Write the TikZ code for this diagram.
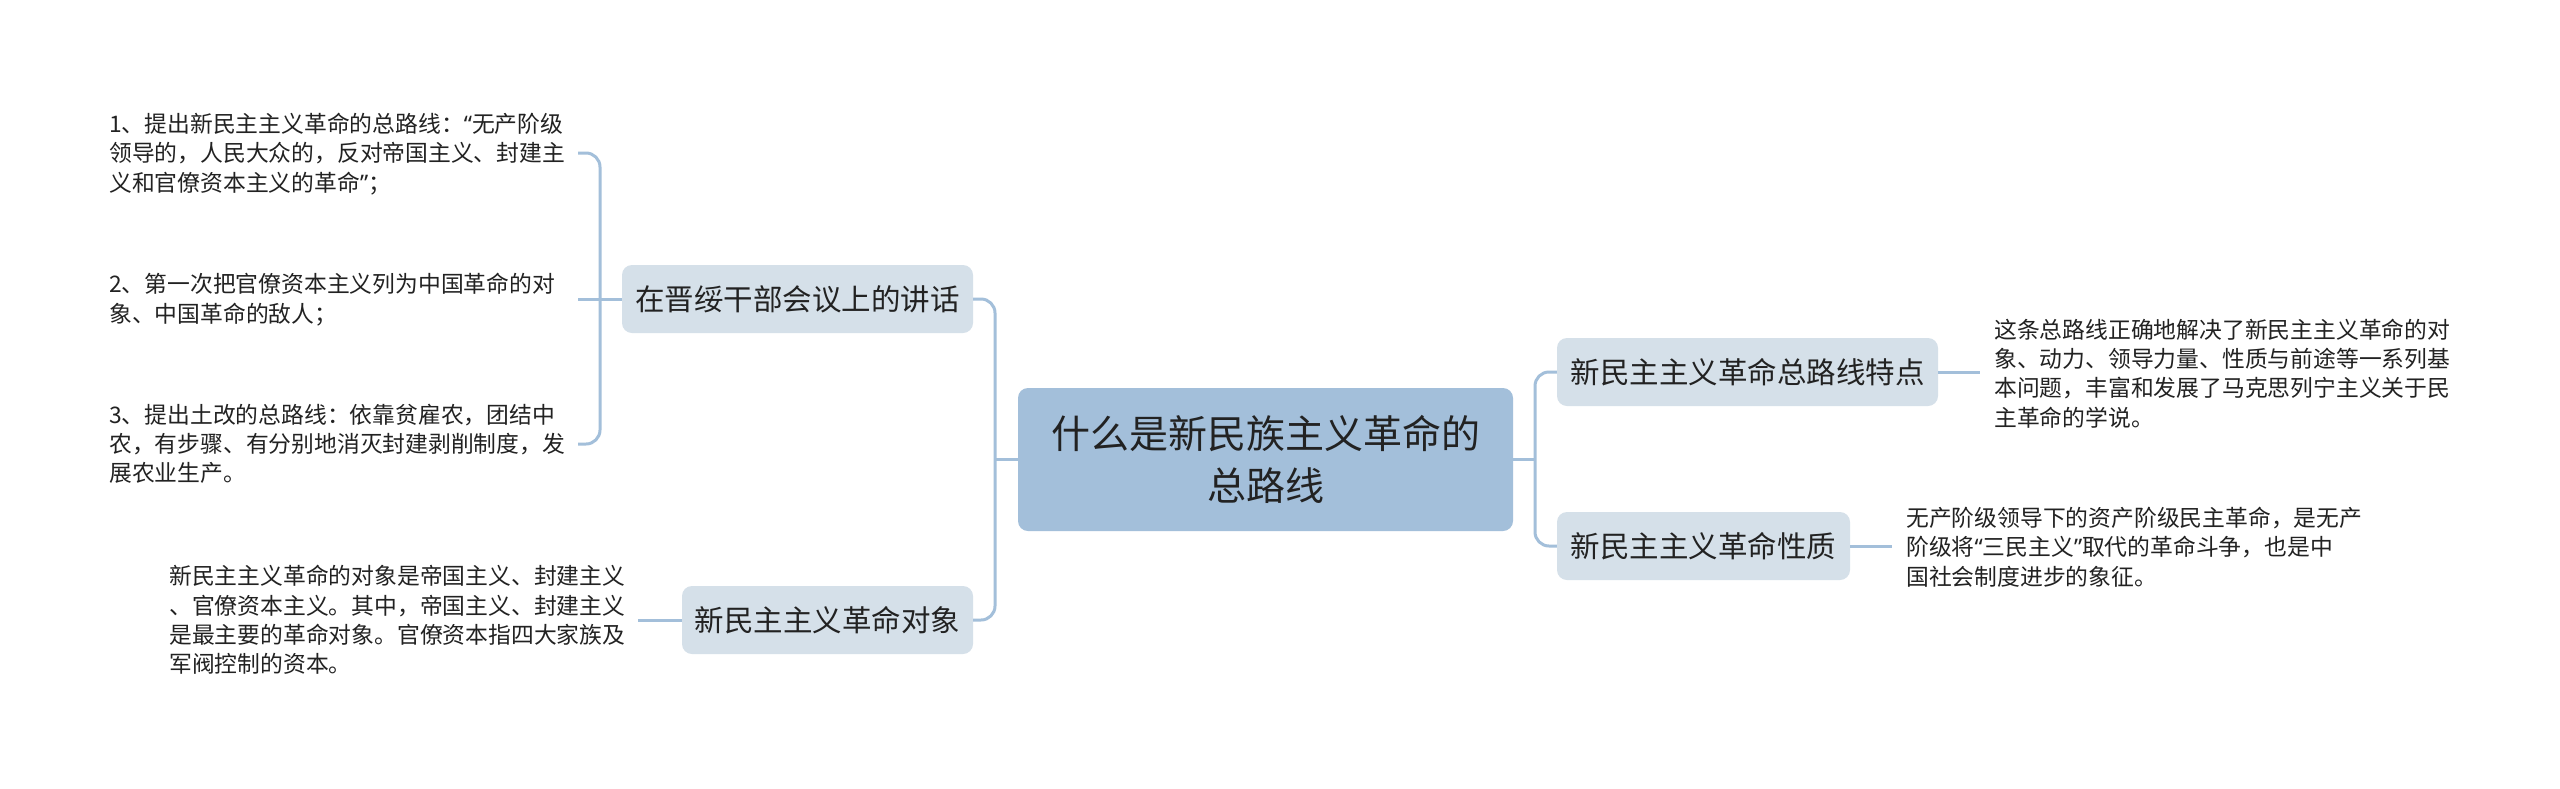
\documentclass[tikz,border=0pt]{standalone}
\usepackage{fontspec}
\newfontfamily\cjk{Noto Sans CJK SC}
\newfontfamily\lat{Noto Sans}
\newcommand{\mylq}{{\lat “}}
\newcommand{\myrq}{{\lat ”}}
\definecolor{linec}{RGB}{163,191,218}
\definecolor{mainfill}{RGB}{163,191,218}
\definecolor{subfill}{RGB}{213,224,233}
\definecolor{txt}{RGB}{34,34,34}
\tikzset{
  conn/.style={draw=linec, line width=3pt, rounded corners=14pt},
  mainbox/.style={fill=mainfill, rounded corners=10pt, inner sep=0pt, align=center, text=txt,
     font=\cjk\fontsize{39}{52}\selectfont},
  subbox/.style={fill=subfill, rounded corners=10pt, inner sep=0pt, minimum height=68pt, text=txt,
     font=\cjk\fontsize{29.5}{35}\selectfont},
  leaf/.style={anchor=west, inner sep=0pt, align=left, text=txt,
     font=\cjk\fontsize{22.8}{29.3}\selectfont}
}
\begin{document}
\begin{tikzpicture}[x=1pt,y=-1pt]
\useasboundingbox[fill=white] (0,0) rectangle (2560,788);
% main
\node[mainbox, minimum width=495pt, minimum height=143pt] (c) at (1265.5,459.5) {什么是新民族主义革命的\\总路线};
% sub nodes
\node[subbox, minimum width=351pt] (n1) at (797.5,299) {在晋绥干部会议上的讲话};
\node[subbox, minimum width=291pt] (n2) at (827.5,620) {新民主主义革命对象};
\node[subbox, minimum width=381pt] (r1) at (1747.5,372) {新民主主义革命总路线特点};
\node[subbox, minimum width=293pt] (r2) at (1703.5,546) {新民主主义革命性质};
% leaves
\node[leaf] (l1a) at (109,154) {1、提出新民主主义革命的总路线：\mylq 无产阶级\\领导的，人民大众的，反对帝国主义、封建主\\义和官僚资本主义的革命\myrq；};
\node[leaf] (l1b) at (109,299.5) {2、第一次把官僚资本主义列为中国革命的对\\象、中国革命的敌人；};
\node[leaf] (l1c) at (109,444) {3、提出土改的总路线：依靠贫雇农，团结中\\农，有步骤、有分别地消灭封建剥削制度，发\\展农业生产。};
\node[leaf] (l2) at (169,620) {新民主主义革命的对象是帝国主义、封建主义\\、官僚资本主义。其中，帝国主义、封建主义\\是最主要的革命对象。官僚资本指四大家族及\\军阀控制的资本。};
\node[leaf] (lr1) at (1994,373.5) {这条总路线正确地解决了新民主主义革命的对\\象、动力、领导力量、性质与前途等一系列基\\本问题，丰富和发展了马克思列宁主义关于民\\主革命的学说。};
\node[leaf] (lr2) at (1906,547) {无产阶级领导下的资产阶级民主革命，是无产\\阶级将\mylq 三民主义\myrq 取代的革命斗争，也是中\\国社会制度进步的象征。};
% junction coordinates
\coordinate (jl) at (995,459.5);
\coordinate (jr) at (1535,459.5);
\coordinate (jb) at (600,299);
\coordinate (sa) at (578,153);
\coordinate (sb) at (578,299);
\coordinate (sc) at (578,444);
\coordinate (s2) at (638,620);
\coordinate (sr1) at (1980,372);
\coordinate (sr2) at (1892,546);
% connectors
\draw[conn] (c.west) -- (jl);
\draw[conn] (n1.east) -| (jl) |- (n2.east);
\draw[conn] (c.east) -- (jr);
\draw[conn] (r1.west) -| (jr) |- (r2.west);
\draw[conn] (n1.west) -- (jb);
\draw[conn] (sa) -| (jb) |- (sc);
\draw[conn] (jb) -- (sb);
\draw[conn] (n2.west) -- (s2);
\draw[conn] (r1.east) -- (sr1);
\draw[conn] (r2.east) -- (sr2);
\end{tikzpicture}
\end{document}
